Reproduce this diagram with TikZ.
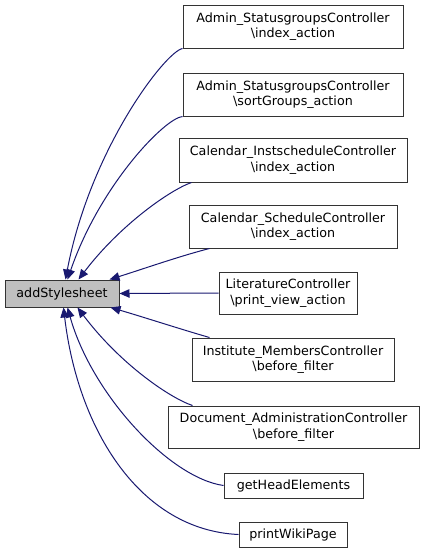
\documentclass[tikz,border=0pt]{standalone}
\usepackage{fontspec}
\setmainfont{DejaVu Sans}
\usetikzlibrary{arrows.meta}
\definecolor{edgeblue}{HTML}{191970}
\definecolor{boxgray}{HTML}{BFBFBF}
\begin{document}
\begin{tikzpicture}[x=1pt,y=-1pt,
  box/.style={draw=black!80,line width=1pt,fill=white,inner sep=0pt,align=center,
    font=\fontsize{12.7}{15.5}\selectfont},
  edge/.style={draw=edgeblue,line width=1pt,-{Triangle[length=10pt,width=8.5pt]}}]
\useasboundingbox (0,0) rectangle (424,555);
\node[box,fill=boxgray,minimum width=114pt,minimum height=27pt] (add) at (62,293.5) {addStylesheet};
\node[box,minimum width=220pt,minimum height=43pt] (b1) at (293,26.5) {Admin\_StatusgroupsController\\\textbackslash index\_action};
\node[box,minimum width=220pt,minimum height=43pt] (b2) at (293,94.5) {Admin\_StatusgroupsController\\\textbackslash sortGroups\_action};
\node[box,minimum width=228pt,minimum height=44pt] (b3) at (293,160) {Calendar\_InstscheduleController\\\textbackslash index\_action};
\node[box,minimum width=208pt,minimum height=43pt] (b4) at (293,226.5) {Calendar\_ScheduleController\\\textbackslash index\_action};
\node[box,minimum width=138pt,minimum height=42pt] (b5) at (288,293) {LiteratureController\\\textbackslash print\_view\_action};
\node[box,minimum width=202pt,minimum height=43pt] (b6) at (293,359.5) {Institute\_MembersController\\\textbackslash before\_filter};
\node[box,minimum width=251pt,minimum height=42pt] (b7) at (293.5,427) {Document\_AdministrationController\\\textbackslash before\_filter};
\node[box,minimum width=139pt,minimum height=25pt] (b8) at (293.5,485.5) {getHeadElements};
\node[box,minimum width=108pt,minimum height=25pt] (b9) at (293,534.5) {printWikiPage};
% edges
\draw[edge] (b1.south west) .. controls (165,52) and (90,150) .. ([xshift=61pt]add.north west);
\draw[edge] (b2.south west) .. controls (165,118) and (100,185) .. ([xshift=63pt]add.north west);
\draw[edge] ([xshift=13pt]b3.south west) .. controls (170,190) and (120,225) .. ([xshift=74pt]add.north west);
\draw[edge] ([xshift=21pt]b4.south west) .. controls (180,256) and (140,270) .. ([xshift=105pt]add.north west);
\draw[edge] (b5.west) -- (add.east);
\draw[edge] ([xshift=18pt]b6.north west) .. controls (180,329) and (140,316) .. ([xshift=106pt]add.south west);
\draw[edge] ([xshift=25pt]b7.north west) .. controls (170,398) and (120,364) .. ([xshift=73pt]add.south west);
\draw[edge] (b8.west) .. controls (170,478) and (92,395) .. ([xshift=63pt]add.south west);
\draw[edge] (b9.west) .. controls (140,530) and (78,430) .. ([xshift=59pt]add.south west);
\end{tikzpicture}
\end{document}
